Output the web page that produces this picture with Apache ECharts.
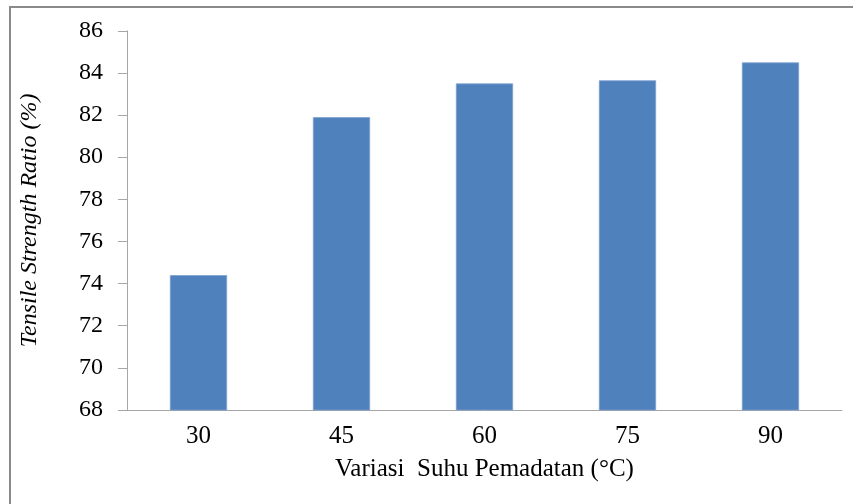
<!DOCTYPE html>
<html>
<head>
<meta charset="utf-8">
<script src="https://cdn.jsdelivr.net/npm/echarts@6/dist/echarts.min.js"></script>
<style>
html,body{margin:0;padding:0;background:#fff;}
#c{width:853px;height:504px;}
</style>
</head>
<body>
<div id="c"></div>
<script>
const categories = ['30', '45', '60', '75', '90'];
const tsrValues = [74.4, 81.9, 83.5, 83.65, 84.5];
const yTicks = [68, 70, 72, 74, 76, 78, 80, 82, 84, 86];
const xTitle = 'Variasi  Suhu Pemadatan (°C)';
const yTitle = 'Tensile Strength Ratio (%)';

const chart = echarts.init(document.getElementById('c'), null, {renderer: 'canvas'});
const font = '"Liberation Serif", "Times New Roman", serif';
chart.setOption({
  animation: false,
  backgroundColor: '#ffffff',
  graphic: [
    {type: 'line', shape: {x1: 10, y1: 7, x2: 10, y2: 504}, style: {stroke: '#8a8a8a', lineWidth: 2}},
    {type: 'line', shape: {x1: 9, y1: 7, x2: 853, y2: 7}, style: {stroke: '#8a8a8a', lineWidth: 2}}
  ],
  grid: {left: 127, right: 11, top: 30.8, bottom: 94, containLabel: false},
  xAxis: {
    type: 'category',
    data: categories,
    axisLine: {lineStyle: {color: '#a6a6a6', width: 1}},
    axisTick: {show: false},
    axisLabel: {fontFamily: font, fontSize: 25, color: '#000', margin: 14},
    name: xTitle,
    nameLocation: 'middle',
    nameGap: 47,
    nameTextStyle: {fontFamily: font, fontSize: 25, color: '#000'}
  },
  yAxis: {
    type: 'value',
    min: yTicks[0],
    max: yTicks[yTicks.length - 1],
    interval: 2,
    axisLine: {show: true, lineStyle: {color: '#a6a6a6', width: 1}},
    axisTick: {show: true, length: 9, lineStyle: {color: '#a6a6a6'}},
    splitLine: {show: false},
    axisLabel: {fontFamily: font, fontSize: 24, color: '#000', margin: 24},
    name: yTitle,
    nameLocation: 'middle',
    nameGap: 85,
    nameRotate: 90,
    nameTextStyle: {fontFamily: font, fontSize: 24, fontStyle: 'italic', color: '#000'}
  },
  series: [{
    type: 'bar',
    data: tsrValues,
    barWidth: '40%',
    itemStyle: {color: '#4f81bd', borderColor: '#7f9fcf', borderWidth: 0.8}
  }]
});
</script>
</body>
</html>
